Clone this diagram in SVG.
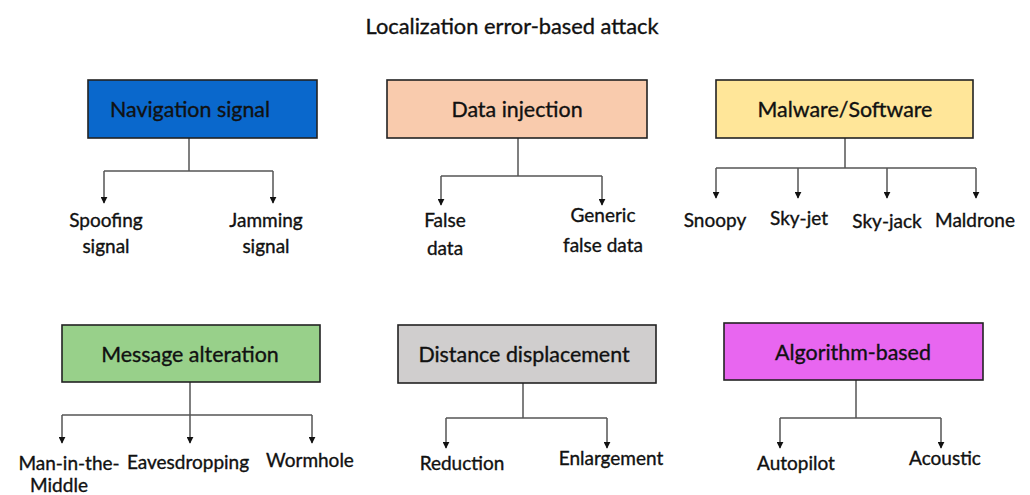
<svg xmlns="http://www.w3.org/2000/svg" width="1030" height="495" viewBox="0 0 1030 495">
  <style>
    text { font-family: Lato, "Open Sans", "Liberation Sans", sans-serif; fill: #111; stroke: #111; stroke-width: 0.35; text-anchor: middle; }
    .title { font-size: 21.8px; }
    .box { stroke: #222; stroke-width: 1.6; }
    .head { font-size: 21.4px; }
    .leaf { font-size: 19px; }
    .wire { fill: none; stroke: #555; stroke-width: 1.5; marker-end: url(#arrow); }
    .stem { fill: none; stroke: #555; stroke-width: 1.5; }
  </style>
  <defs>
    <marker id="arrow" viewBox="0 0 10 10" refX="9" refY="5" markerWidth="7" markerHeight="7" markerUnits="userSpaceOnUse" orient="auto">
      <path d="M0,0 L10,5 L0,10 z" fill="#111"/>
    </marker>
  </defs>

  <rect width="1030" height="495" fill="#fff"/>
  <text class="title" x="512" y="34">Localization error-based attack</text>

  <!-- connectors -->
  <g id="connectors">
    <!-- Navigation signal -->
    <path class="stem" d="M189,138 V171 M104,171 H273"/>
    <path class="wire" d="M104,171 V203"/>
    <path class="wire" d="M273,171 V203"/>
    <!-- Data injection -->
    <path class="stem" d="M518,138 V176 M441,176 H602"/>
    <path class="wire" d="M441,176 V205"/>
    <path class="wire" d="M602,176 V205"/>
    <!-- Malware/Software -->
    <path class="stem" d="M845,138 V168 M716,168 H976"/>
    <path class="wire" d="M716,168 V198"/>
    <path class="wire" d="M798,168 V198"/>
    <path class="wire" d="M887,168 V198"/>
    <path class="wire" d="M976,168 V198"/>
    <!-- Message alteration -->
    <path class="stem" d="M190,382 V415 M62,415 H312"/>
    <path class="wire" d="M62,415 V443"/>
    <path class="wire" d="M190,415 V443"/>
    <path class="wire" d="M312,415 V443"/>
    <!-- Distance displacement -->
    <path class="stem" d="M523,383 V418 M446,418 H607"/>
    <path class="wire" d="M446,418 V448"/>
    <path class="wire" d="M607,418 V448"/>
    <!-- Algorithm-based -->
    <path class="stem" d="M856,380 V418 M780,418 H941"/>
    <path class="wire" d="M780,418 V448"/>
    <path class="wire" d="M941,418 V448"/>
  </g>

  <!-- category nodes -->
  <g id="navigation-signal">
    <rect class="box" x="88" y="80" width="229" height="58" fill="#0a68cc"/>
    <text class="head" x="190" y="117">Navigation signal</text>
  </g>
  <g id="data-injection">
    <rect class="box" x="387" y="80" width="260" height="58" fill="#f9cbad"/>
    <text class="head" x="517" y="117">Data injection</text>
  </g>
  <g id="malware-software">
    <rect class="box" x="716" y="80" width="257" height="58" fill="#ffe699"/>
    <text class="head" x="845" y="117">Malware/Software</text>
  </g>
  <g id="message-alteration">
    <rect class="box" x="62" y="325" width="258" height="57" fill="#98d08a"/>
    <text class="head" x="190" y="362">Message alteration</text>
  </g>
  <g id="distance-displacement">
    <rect class="box" x="398" y="325" width="258" height="58" fill="#d0cece"/>
    <text class="head" x="524" y="362">Distance displacement</text>
  </g>
  <g id="algorithm-based">
    <rect class="box" x="724" y="323" width="259" height="57" fill="#e866f0"/>
    <text class="head" x="853" y="360">Algorithm-based</text>
  </g>

  <!-- leaf nodes -->
  <g id="spoofing-signal">
    <text class="leaf" x="106" y="227">Spoofing</text>
    <text class="leaf" x="106" y="253">signal</text>
  </g>
  <g id="jamming-signal">
    <text class="leaf" x="266" y="227">Jamming</text>
    <text class="leaf" x="266" y="253">signal</text>
  </g>
  <g id="false-data">
    <text class="leaf" x="445" y="227">False</text>
    <text class="leaf" x="445" y="255">data</text>
  </g>
  <g id="generic-false-data">
    <text class="leaf" x="603" y="222">Generic</text>
    <text class="leaf" x="603" y="252">false data</text>
  </g>
  <g id="snoopy"><text class="leaf" x="715" y="227">Snoopy</text></g>
  <g id="sky-jet"><text class="leaf" x="799" y="225">Sky-jet</text></g>
  <g id="sky-jack"><text class="leaf" x="887" y="228">Sky-jack</text></g>
  <g id="maldrone"><text class="leaf" x="975" y="227">Maldrone</text></g>
  <g id="man-in-the-middle">
    <text class="leaf" x="69" y="470">Man-in-the-</text>
    <text class="leaf" x="59" y="492">Middle</text>
  </g>
  <g id="eavesdropping"><text class="leaf" x="188" y="469">Eavesdropping</text></g>
  <g id="wormhole"><text class="leaf" x="310" y="467">Wormhole</text></g>
  <g id="reduction"><text class="leaf" x="462" y="470">Reduction</text></g>
  <g id="enlargement"><text class="leaf" x="611" y="465">Enlargement</text></g>
  <g id="autopilot"><text class="leaf" x="796" y="470">Autopilot</text></g>
  <g id="acoustic"><text class="leaf" x="945" y="465">Acoustic</text></g>
</svg>
